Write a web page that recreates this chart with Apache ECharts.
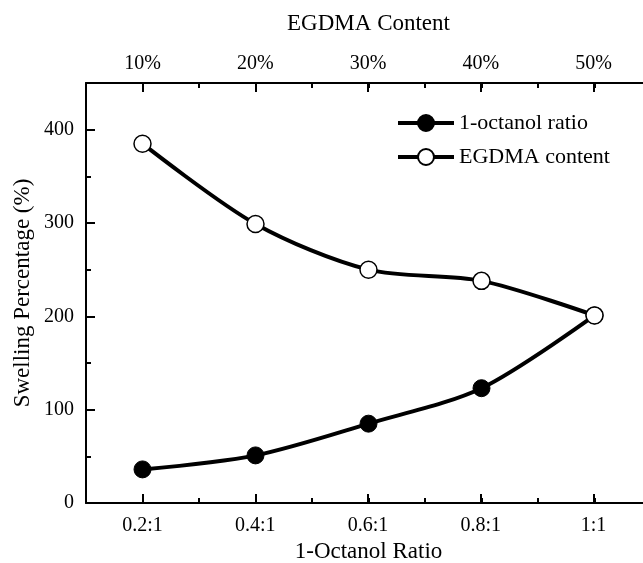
<!DOCTYPE html>
<html>
<head>
<meta charset="utf-8">
<script src="https://cdn.jsdelivr.net/npm/echarts@6/dist/echarts.min.js"></script>
<style>
  html, body { margin: 0; padding: 0; background: #fff; }
  #chart { width: 643px; height: 563px; }
</style>
</head>
<body>
<div id="chart"></div>
<script>
// x positions are category indexes 0..4
var ratioLabels = ['0.2:1', '0.4:1', '0.6:1', '0.8:1', '1:1'];
var egdmaLabels = ['10%', '20%', '30%', '40%', '50%'];
var octanolValues = [36, 51, 85, 123, 201];
var egdmaValues = [385, 299, 250, 238, 201];

var font = 'Liberation Serif';
var black = '#000';

function pairs(vals) {
    return vals.map(function (v, i) { return [i, v]; });
}

function labelAt(list) {
    return function (v) {
        var i = Math.round(v);
        if (Math.abs(v - i) > 1e-6 || i < 0 || i >= list.length) return '';
        return list[i];
    };
}

var tickFont = { fontFamily: font, fontSize: 20, color: black };
var nameFont = { fontFamily: font, fontSize: 23, color: black };

// frame axes: short (minor) ticks at every half step
function frameX(pos, name, gap) {
    return {
        gridIndex: 0, type: 'value', position: pos,
        min: -0.5, max: 4.5, interval: 0.5,
        name: name, nameLocation: 'middle', nameGap: gap, nameTextStyle: nameFont,
        splitLine: { show: false },
        axisLine: { show: true, onZero: false, lineStyle: { color: black, width: 2 } },
        axisTick: { show: true, inside: true, length: 5, lineStyle: { color: black, width: 2 } },
        axisLabel: { show: false }
    };
}

// major ticks + labels sit on a grid that spans the first to last point
function majorX(pos, labels, margin) {
    return {
        gridIndex: 1, type: 'value', position: pos,
        min: 0, max: 4, interval: 1,
        splitLine: { show: false },
        axisLine: { show: false, onZero: false },
        axisTick: { show: true, inside: true, length: 9, lineStyle: { color: black, width: 2 } },
        axisLabel: Object.assign({ formatter: labelAt(labels), margin: margin }, tickFont)
    };
}

var chart = echarts.init(document.getElementById('chart'));

chart.setOption({
    animation: false,
    backgroundColor: '#fff',
    grid: [
        { left: 86, right: -8, top: 83, bottom: 60, outerBoundsMode: 'none' },
        { left: 142.5, right: 49.5, top: 83, bottom: 60, outerBoundsMode: 'none' }
    ],
    legend: {
        orient: 'vertical',
        left: 391,
        top: 107,
        itemWidth: 56,
        itemHeight: 20,
        itemGap: 12,
        lineStyle: { width: 4, color: black },
        textStyle: { fontFamily: font, fontSize: 22, color: black },
        data: ['1-octanol ratio', 'EGDMA content']
    },
    xAxis: [
        frameX('bottom', '1-Octanol Ratio', 37),
        frameX('top', 'EGDMA Content', 48),
        majorX('bottom', ratioLabels, 13),
        majorX('top', egdmaLabels, 9)
    ],
    yAxis: [
        {
            gridIndex: 0, type: 'value', position: 'left', min: 0, max: 450, interval: 50,
            name: 'Swelling Percentage (%)', nameLocation: 'middle', nameGap: 52,
            nameTextStyle: nameFont,
            splitLine: { show: false },
            axisLine: { show: true, onZero: false, lineStyle: { color: black, width: 2 } },
            axisTick: { show: true, inside: true, length: 5, lineStyle: { color: black, width: 2 } },
            axisLabel: { show: false }
        },
        {
            gridIndex: 0, type: 'value', position: 'left', offset: 0,
            min: 0, max: 450, interval: 100,
            splitLine: { show: false },
            axisLine: { show: false, onZero: false },
            axisTick: { show: true, inside: true, length: 9, lineStyle: { color: black, width: 2 } },
            axisLabel: Object.assign({
                margin: 12,
                formatter: function (v) { return v % 100 === 0 ? String(v) : ''; }
            }, tickFont)
        },
        {
            gridIndex: 1, type: 'value', min: 0, max: 450, show: false
        }
    ],
    series: [
        {
            name: '1-octanol ratio',
            type: 'line',
            xAxisIndex: 0, yAxisIndex: 0,
            smooth: 0.3,
            data: pairs(octanolValues),
            symbol: 'circle',
            symbolSize: 17,
            lineStyle: { color: black, width: 4 },
            itemStyle: { color: black, borderColor: black, borderWidth: 1 },
            z: 3
        },
        {
            name: 'EGDMA content',
            type: 'line',
            xAxisIndex: 0, yAxisIndex: 0,
            smooth: 0.3,
            data: pairs(egdmaValues),
            symbol: 'circle',
            symbolSize: 17,
            lineStyle: { color: black, width: 4 },
            itemStyle: { color: '#fff', borderColor: black, borderWidth: 1.5 },
            z: 3
        }
    ]
});
</script>
</body>
</html>
